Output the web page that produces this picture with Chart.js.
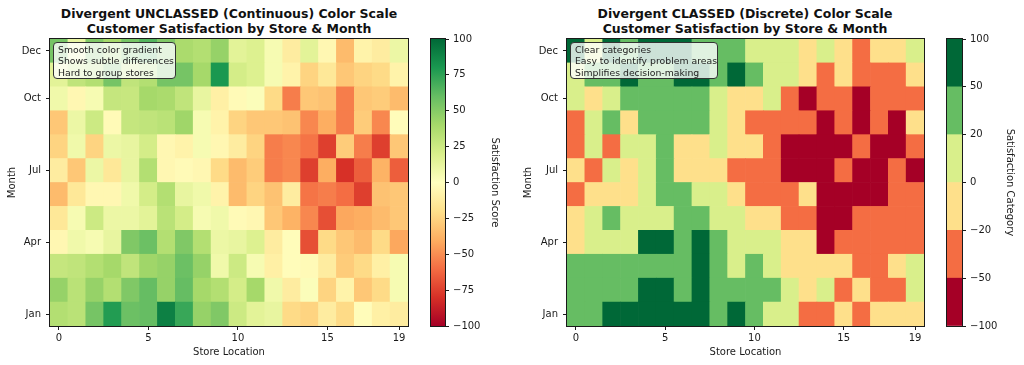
<!DOCTYPE html>
<html>
<head>
<meta charset="utf-8">
<script src="https://cdn.jsdelivr.net/npm/chart.js@4.4.1/dist/chart.umd.min.js"></script>
<style>
    body { margin: 0; background: #fff; width: 1024px; height: 365px; position: relative; overflow: hidden; font-family: "DejaVu Sans", sans-serif; }
    canvas { position: absolute; top: 0; }
    .title { position: absolute; top: 6px; font-weight: bold; font-size: 12.5px; line-height: 15px; text-align: center; color: #111; transform: translateX(-50%); white-space: nowrap; }
    .note { position: absolute; top: 42px; height: 37px; padding: 1px 4px 0 4px; box-sizing: border-box; background: rgba(255,255,255,0.8); border: 1px solid #333; border-radius: 4px; font-size: 9.3px; line-height: 11.4px; color: #222; white-space: nowrap; }
</style>
</head>
<body>
<div class="title" style="left:229px">Divergent UNCLASSED (Continuous) Color Scale<br>Customer Satisfaction by Store &amp; Month</div>
<div class="title" style="left:745px">Divergent CLASSED (Discrete) Color Scale<br>Customer Satisfaction by Store &amp; Month</div>

<canvas id="heat-cont" width="420" height="365" style="left:0"></canvas>
<canvas id="bar-cont" width="95" height="365" style="left:420px"></canvas>
<canvas id="heat-class" width="422" height="365" style="left:515px"></canvas>
<canvas id="bar-class" width="87" height="365" style="left:937px"></canvas>

<div class="note" style="left:53px;width:123px">Smooth color gradient<br>Shows subtle differences<br>Hard to group stores</div>
<div class="note" style="left:570px;width:148px">Clear categories<br>Easy to identify problem areas<br>Simplifies decision-making</div>

<script>
// stores 0..19 along x, months along y
const stores = [0, 1, 2, 3, 4, 5, 6, 7, 8, 9, 10, 11, 12, 13, 14, 15, 16, 17, 18, 19];
const months = ['Jan', 'Feb', 'Mar', 'Apr', 'May', 'Jun', 'Jul', 'Aug', 'Sep', 'Oct', 'Nov', 'Dec'];

// satisfaction score per store, one list per month
const satJan = [35, 32, 55, 78, 58, 60, 90, 72, 45, 52, 25, 15, 12, -22, -25, -12, -22, -2, -10, -12];
const satFeb = [45, 32, 45, 35, 52, 60, 45, 60, 40, 35, 22, 40, 8, -12, 2, -25, -8, -30, -22, 5];
const satMar = [28, 30, 35, 40, 30, 42, 45, 58, 45, 8, 25, 5, -10, -2, -3, -12, -28, -22, -10, 5];
const satApr = [-5, 8, 5, 12, 52, 58, 35, 52, 35, 10, 12, 18, -12, -2, -70, -22, -30, -35, -22, -42];
const satMay = [-15, 5, 25, 10, 10, 15, 32, 22, 5, 8, -3, -5, -30, -38, -52, -70, -42, -40, -35, -30];
const satJun = [-35, -15, -5, -5, 8, 22, 35, 12, 8, -8, -35, -25, -32, -12, -58, -55, -60, -75, -32, -30];
const satJul = [-12, -30, 10, -15, 12, 35, -5, -3, -5, -22, -35, -28, -55, -52, -75, -40, -80, -65, -38, -65];
const satAug = [-25, 8, -25, 10, 12, 22, -5, -8, 5, -5, -12, -25, -55, -52, -58, -75, -28, -55, -75, -30];
const satSep = [-30, 10, 25, -3, 28, 30, 32, 42, 5, -8, -25, -30, -30, -32, -52, -40, -55, -28, -52, -2];
const satOct = [8, -5, 5, 28, 27, 40, 38, 30, 12, -10, -3, 2, -22, -55, -30, -32, -55, -30, -28, -35];
const satNov = [15, 30, 35, 55, 30, 35, 55, 55, 40, 80, 22, 18, 5, -8, -25, -15, -30, -25, -22, -8];
const satDec = [55, 12, 52, 40, 55, 65, 52, 38, 35, 45, 15, 18, 5, -12, 15, -5, -35, -8, -12, 10];
const satRows = [satJan, satFeb, satMar, satApr, satMay, satJun, satJul, satAug, satSep, satOct, satNov, satDec];

// ticks
const storeTicks = [0, 5, 10, 15, 19];
const monthTicks = ['Jan', 'Apr', 'Jul', 'Oct', 'Dec'];
const scoreTicks = [-100, -75, -50, -25, 0, 25, 50, 75, 100];
const classBounds = [-100, -50, -20, 0, 20, 50, 100];

// colours
const rdylgn = ['#a50026', '#d73027', '#f46d43', '#fdae61', '#fee08b', '#ffffbf', '#d9ef8b', '#a6d96a', '#66bd63', '#1a9850', '#006837'];
const classColors = ['#a50026', '#f46d43', '#fee08b', '#d9ef8b', '#66bd63', '#006837'];

const FONT = 'DejaVu Sans';
const INK = '#1a1a1a';
Chart.defaults.font.family = FONT;
Chart.defaults.font.size = 10;
Chart.defaults.color = INK;

function hexToRgb(h) {
    return [parseInt(h.slice(1, 3), 16), parseInt(h.slice(3, 5), 16), parseInt(h.slice(5, 7), 16)];
}
function contColor(v) {
    const t = Math.max(0, Math.min(1, (v + 100) / 200)) * 10;
    const i = Math.min(9, Math.floor(t));
    const f = t - i;
    const a = hexToRgb(rdylgn[i]), b = hexToRgb(rdylgn[i + 1]);
    const c = a.map((x, k) => Math.round(x + (b[k] - x) * f));
    return `rgb(${c[0]},${c[1]},${c[2]})`;
}
function classColor(v) {
    for (let k = 0; k < classColors.length; k++) {
        if (v < classBounds[k + 1]) return classColors[k];
    }
    return classColors[classColors.length - 1];
}
function minus(v) {
    return String(v).replace('-', '\u2212');
}

// black outline round the plot area, like the matplotlib spines
const framePlugin = {
    id: 'frame',
    afterDatasetsDraw(chart) {
        const { ctx, chartArea: a } = chart;
        ctx.save();
        ctx.strokeStyle = INK;
        ctx.lineWidth = 1;
        ctx.strokeRect(Math.round(a.left) - 0.5, Math.round(a.top) - 0.5, Math.round(a.right - a.left) + 1, Math.round(a.bottom - a.top) + 1);
        ctx.restore();
    }
};

function heatmap(id, colorFn, yWidth, padRight, monthPad) {
    const datasets = satRows.map((row, m) => ({
        label: months[m],
        data: row.map((v, i) => ({ x: stores[i], y: [m - 0.5, m + 0.5] })),
        backgroundColor: row.map(colorFn),
        borderWidth: 0,
        grouped: false,
        barPercentage: 1,
        categoryPercentage: 1
    }));
    new Chart(document.getElementById(id), {
        type: 'bar',
        data: { datasets },
        options: {
            responsive: false,
            animation: false,
            events: [],
            devicePixelRatio: 1,
            layout: { padding: { top: 39, right: padRight, bottom: 0, left: 0 } },
            plugins: { legend: { display: false }, tooltip: { enabled: false } },
            scales: {
                x: {
                    type: 'linear', min: -0.5, max: 19.5, offset: false,
                    afterFit: s => { s.height = 39; },
                    afterBuildTicks: s => { s.ticks = storeTicks.map(v => ({ value: v })); },
                    ticks: { callback: v => String(v), maxRotation: 0, padding: 2, color: INK },
                    grid: { drawOnChartArea: false, offset: false, tickLength: 4, color: INK },
                    border: { display: false },
                    title: { display: true, text: 'Store Location', color: INK, padding: { top: 0, bottom: 7 } }
                },
                y: {
                    type: 'linear', min: -0.5, max: 11.5,
                    afterFit: s => { s.width = yWidth; },
                    afterBuildTicks: s => { s.ticks = monthTicks.map(m => ({ value: months.indexOf(m) })); },
                    ticks: { callback: v => months[v], padding: 5, color: INK },
                    grid: { drawOnChartArea: false, tickLength: 4, color: INK },
                    border: { display: false },
                    title: { display: true, text: 'Month', color: INK, padding: { top: monthPad, bottom: 0 } }
                }
            }
        },
        plugins: [framePlugin]
    });
}

function colorbarOptions(yScale, padLeft, padRight, yWidth) {
    return {
        responsive: false,
        animation: false,
        events: [],
        devicePixelRatio: 1,
        layout: { padding: { top: 39, right: padRight, bottom: 39, left: padLeft } },
        plugins: { legend: { display: false }, tooltip: { enabled: false } },
        scales: {
            x: { display: false },
            y: Object.assign({
                position: 'right',
                afterFit: s => { s.width = yWidth; },
                grid: { drawOnChartArea: false, tickLength: 4, color: INK },
                border: { display: false }
            }, yScale)
        }
    };
}

heatmap('heat-cont', contColor, 50, 12, 6);
heatmap('heat-class', classColor, 52, 13, 7);

// continuous colour bar
new Chart(document.getElementById('bar-cont'), {
    type: 'bar',
    data: {
        labels: ['score'],
        datasets: [{
            data: [[scoreTicks[0], scoreTicks[scoreTicks.length - 1]]],
            borderWidth: 0,
            barPercentage: 1,
            categoryPercentage: 1,
            backgroundColor: c => {
                const chart = c.chart;
                const y = chart.scales.y;
                if (!chart.chartArea || !y) return rdylgn[5];
                const g = chart.ctx.createLinearGradient(0, y.getPixelForValue(-100), 0, y.getPixelForValue(100));
                rdylgn.forEach((col, i) => g.addColorStop(i / 10, col));
                return g;
            }
        }]
    },
    options: colorbarOptions({
        min: -100, max: 100,
        afterBuildTicks: s => { s.ticks = scoreTicks.map(v => ({ value: v })); },
        ticks: { callback: v => minus(v), padding: 4, color: INK },
        title: { display: true, text: 'Satisfaction Score', color: INK, padding: { top: 4, bottom: 0 } }
    }, 11, 10, 60),
    plugins: [framePlugin]
});

// classed colour bar, classes evenly spaced
new Chart(document.getElementById('bar-class'), {
    type: 'bar',
    data: {
        labels: ['class'],
        datasets: classColors.map((col, k) => ({
            data: [[k, k + 1]],
            backgroundColor: col,
            borderWidth: 0,
            grouped: false,
            barPercentage: 1,
            categoryPercentage: 1
        }))
    },
    options: colorbarOptions({
        min: 0, max: classColors.length,
        afterBuildTicks: s => { s.ticks = classBounds.map((b, k) => ({ value: k })); },
        ticks: { callback: v => minus(classBounds[v]), padding: 4, color: INK },
        title: { display: true, text: 'Satisfaction Category', color: INK, padding: { top: 4, bottom: 0 } }
    }, 10, 4, 58),
    plugins: [framePlugin]
});
</script>
</body>
</html>
